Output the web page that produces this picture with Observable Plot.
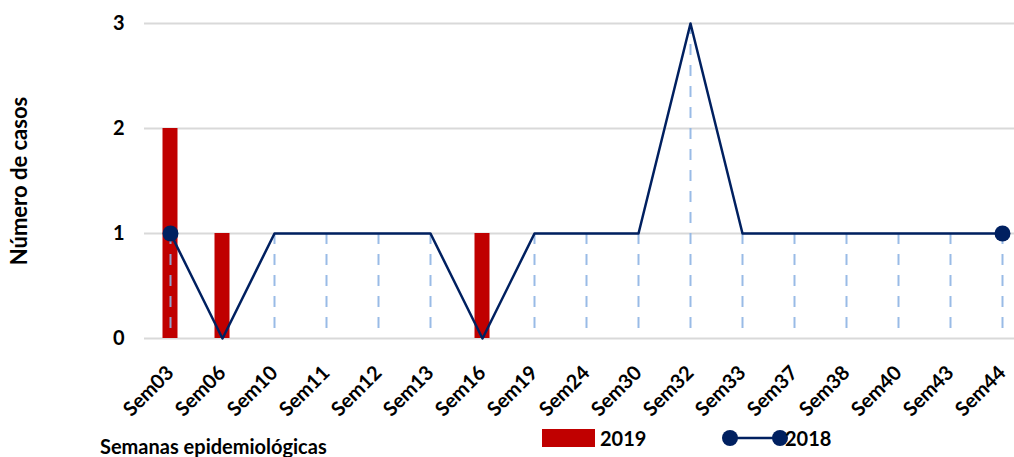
<!DOCTYPE html>
<html>
<head>
<meta charset="utf-8">
<script src="https://cdn.jsdelivr.net/npm/d3@7"></script>
<script src="https://cdn.jsdelivr.net/npm/@observablehq/plot@0.6"></script>
<style>
  html, body { margin: 0; padding: 0; background: #fff; }
  #wrap { position: relative; width: 1014px; height: 457px; font-family: Lato, "Open Sans", sans-serif; font-weight: 700; }
  #foot { position: relative; width: 1014px; height: 32px; color: #000; }
  .lbl { position: absolute; font-size: 20px; font-weight: 700; line-height: 1; }
</style>
</head>
<body>
<div id="wrap">
  <div id="chart"></div>
  <div id="foot">
    <div class="lbl" style="left:100px; top:11px;">Semanas epidemiológicas</div>
    <div style="position:absolute; left:542px; top:4px; width:53px; height:18px; background:#C00000;"></div>
    <div class="lbl" style="left:600px; top:3px;">2019</div>
    <svg style="position:absolute; left:720px; top:1px;" width="70" height="24">
      <line x1="10" y1="12" x2="60" y2="12" stroke="#002060" stroke-width="2.5"/>
      <circle cx="10" cy="12" r="8" fill="#002060"/>
      <circle cx="60" cy="12" r="8" fill="#002060"/>
    </svg>
    <div class="lbl" style="left:785px; top:3px;">2018</div>
  </div>
</div>
<script>
const weeks = ["Sem03","Sem06","Sem10","Sem11","Sem12","Sem13","Sem16","Sem19","Sem24","Sem30","Sem32","Sem33","Sem37","Sem38","Sem40","Sem43","Sem44"];
const cases2019 = [2,1,0,0,0,0,1,0,0,0,0,0,0,0,0,0,0];
const cases2018 = [1,0,1,1,1,1,0,1,1,1,3,1,1,1,1,1,1];
const yTicks = [0,1,2,3];

const bars = weeks.map((w,i) => ({week: w, value: cases2019[i]})).filter(d => d.value > 0);
const line = weeks.map((w,i) => ({week: w, value: cases2018[i]}));
const drops = line.filter(d => d.value > 0);
const ends = [line[0], line[line.length - 1]];

const chart = Plot.plot({
  width: 1014,
  height: 425,
  marginLeft: 144,
  marginRight: 0,
  marginTop: 23,
  marginBottom: 87,
  x: {domain: weeks, range: [144, 1028], padding: 0, label: null},
  y: {domain: [0, 3], label: null},
  style: {fontFamily: "Lato, 'Open Sans', sans-serif", fontWeight: 700, overflow: "visible", color: "#000"},
  marks: [
    Plot.ruleY(yTicks, {stroke: "#D9D9D9", strokeWidth: 2}),
    Plot.barY(bars, {x: "week", y: "value", fill: "#C00000", insetLeft: 18.5, insetRight: 18.5}),
    Plot.ruleX(drops, {x: "week", y1: "value", y2: 0, stroke: "#8EB4E3", strokeWidth: 2, strokeDasharray: "11,10", strokeOpacity: 0.9}),
    Plot.line(line, {x: "week", y: "value", stroke: "#002060", strokeWidth: 2.5}),
    Plot.dot(ends, {x: "week", y: "value", r: 8, fill: "#002060"}),
    Plot.axisX({tickSize: 0, tickRotate: -45, tickPadding: 31, fontSize: 20, label: null}),
    Plot.axisY({ticks: yTicks, tickFormat: "d", tickSize: 0, tickPadding: 20, fontSize: 20, label: null}),
    Plot.axisY({ticks: [], tickSize: 0, fontSize: 22, label: "Número de casos", labelAnchor: "center", labelOffset: 133, labelArrow: "none"})
  ]
});
document.getElementById("chart").appendChild(chart);
</script>
</body>
</html>
